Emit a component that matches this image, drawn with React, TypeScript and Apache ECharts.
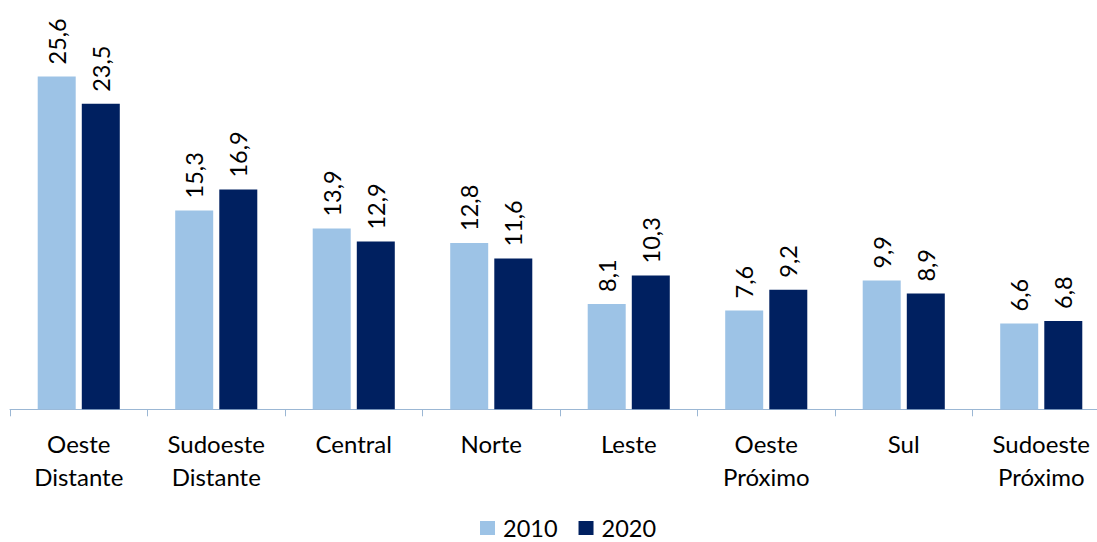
import React, { useEffect, useRef } from "react";
import * as echarts from "echarts";

const categories = ["Oeste\nDistante", "Sudoeste\nDistante", "Central", "Norte", "Leste", "Oeste\nPróximo", "Sul", "Sudoeste\nPróximo"];
const values2010 = [25.6, 15.3, 13.9, 12.8, 8.1, 7.6, 9.9, 6.6];
const values2020 = [23.5, 16.9, 12.9, 11.6, 10.3, 9.2, 8.9, 6.8];
const seriesNames = ["2010", "2020"];

const FONT = "Lato";

export default function App() {
  const ref = useRef<HTMLDivElement>(null);
  useEffect(() => {
    document.body.style.margin = "0";
    document.documentElement.style.overflow = "hidden";
    document.body.style.overflow = "hidden";
    const chart = echarts.init(ref.current!, null, { renderer: "svg" });
    const label = {
      show: true,
      position: "top" as const,
      rotate: 90,
      align: "left" as const,
      verticalAlign: "middle" as const,
      distance: 12,
      fontFamily: FONT,
      fontSize: 23.5,
      color: "#000",
      formatter: (p: any) => String(p.value).replace(".", ","),
    };
    chart.setOption({
      animation: false,
      grid: { left: 10, width: 1100, top: 19.3, bottom: 132.7, containLabel: false },
      legend: {
        top: 516,
        left: 480,
        padding: 0,
        itemWidth: 15,
        itemHeight: 14,
        itemGap: 21,
        icon: "rect",
        textStyle: { fontFamily: FONT, fontSize: 23.5, lineHeight: 21, color: "#000", padding: [0, 0, 0, 3] },
        data: seriesNames,
      },
      xAxis: {
        type: "category",
        data: categories,
        axisLine: { lineStyle: { color: "#9BB7D4", width: 1 } },
        axisTick: { show: true, length: 7, lineStyle: { color: "#9BB7D4" } },
        axisLabel: { fontFamily: FONT, fontSize: 24, color: "#000", lineHeight: 33, margin: 18 },
      },
      yAxis: {
        type: "value",
        min: 0,
        max: 30,
        show: false,
        splitLine: { show: false },
      },
      series: [
        {
          name: seriesNames[0],
          type: "bar",
          data: values2010,
          barWidth: 38,
          barGap: "16%",
          itemStyle: { color: "#9DC3E6" },
          label,
        },
        {
          name: seriesNames[1],
          type: "bar",
          data: values2020,
          barWidth: 38,
          itemStyle: { color: "#002060" },
          label,
        },
      ],
    });
    return () => chart.dispose();
  }, []);
  return <div ref={ref} style={{ width: 1120, height: 542 }} />;
}
